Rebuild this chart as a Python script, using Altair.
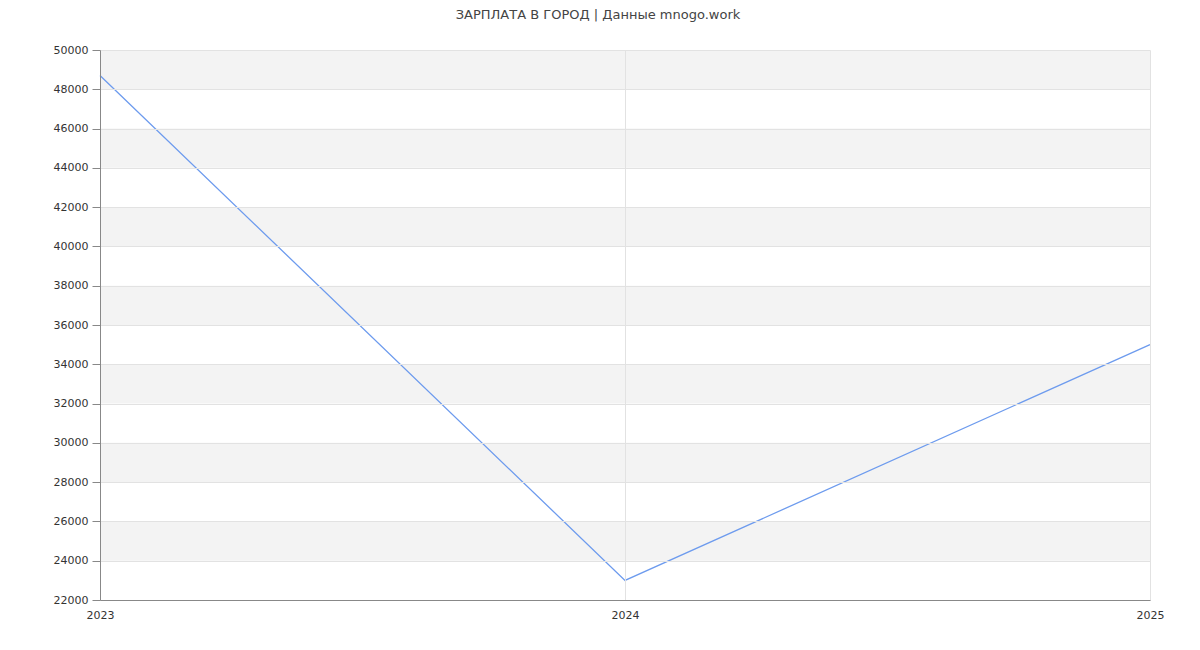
import altair as alt
import pandas as pd

years = [2023, 2024, 2025]
salaries = [48700, 23000, 35000]
y_ticks = list(range(22000, 50001, 2000))
band_starts = list(range(24000, 50000, 4000))

line_df = pd.DataFrame({"year": years, "salary": salaries})
band_df = pd.DataFrame({"y0": band_starts, "y1": [b + 2000 for b in band_starts]})

yscale = alt.Scale(domain=[22000, 50000], nice=False, zero=False)
xscale = alt.Scale(type="point", domain=years, padding=0)

y_axis = alt.Axis(
    values=y_ticks, tickCount=len(y_ticks), format="d", title=None, grid=True,
    gridColor="#e2e2e2", gridWidth=1, domainColor="#888888",
    tickColor="#888888", tickSize=8, labelFontSize=11, labelColor="#333333",
    labelPadding=4, labelFont="DejaVu Sans", labelOverlap=False, zindex=1)

x_axis = alt.Axis(
    title=None, grid=True, labelAngle=0,
    gridColor="#e2e2e2", domainColor="#888888", ticks=False, labelFontSize=11,
    labelColor="#333333", labelPadding=9, labelFont="DejaVu Sans",
    labelOverlap=False, zindex=1)

bands = alt.Chart(band_df).mark_rect(color="#f3f3f3").encode(
    y=alt.Y("y0:Q", scale=yscale, axis=y_axis),
    y2="y1:Q",
    x=alt.value(0),
    x2=alt.value(1050),
)

line = alt.Chart(line_df).mark_line(color="#6d9bee", strokeWidth=1.3).encode(
    x=alt.X("year:O", scale=xscale, axis=x_axis),
    y=alt.Y("salary:Q", scale=yscale, axis=y_axis),
)

chart = alt.layer(bands, line).properties(
    width=1050,
    height=550,
    title=alt.TitleParams(
        "ЗАРПЛАТА В ГОРОД | Данные mnogo.work",
        fontSize=13, fontWeight="normal", color="#444444",
        font="DejaVu Sans", anchor="middle", offset=22, dx=-27,
    ),
    autosize=alt.AutoSizeParams(type="none"),
    padding={"left": 92, "top": 42, "right": 42, "bottom": 30},
).configure_view(stroke=None)

chart.save("out.html", embed_options={"renderer": "svg", "actions": False})
